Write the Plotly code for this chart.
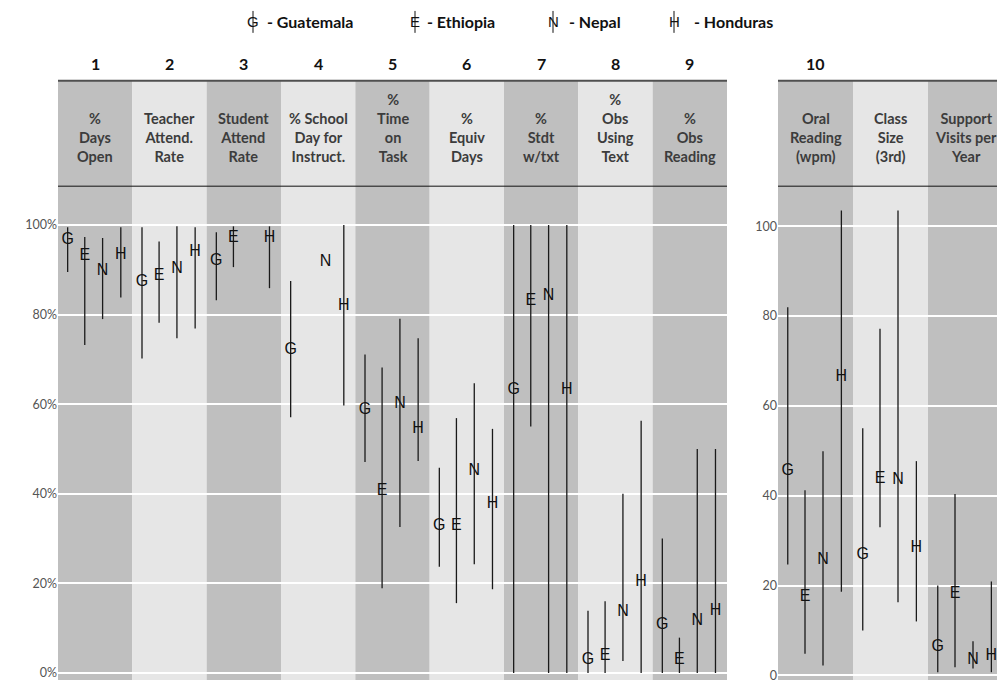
import plotly.graph_objects as go

# ---------------- data ----------------
left_numbers = ["1", "2", "3", "4", "5", "6", "7", "8", "9"]
left_labels = ["%<br>Days<br>Open", "Teacher<br>Attend.<br>Rate", "Student<br>Attend<br>Rate",
               "% School<br>Day for<br>Instruct.", "%<br>Time<br>on<br>Task", "%<br>Equiv<br>Days",
               "%<br>Stdt<br>w/txt", "%<br>Obs<br>Using<br>Text", "%<br>Obs<br>Reading"]
right_numbers = ["10", "", ""]
right_labels = ["Oral<br>Reading<br>(wpm)", "Class<br>Size<br>(3rd)", "Support<br>Visits per<br>Year"]

countries = ["Guatemala", "Ethiopia", "Nepal", "Honduras"]
letters = ["G", "E", "N", "H"]

# left panel (percent), 9 indicators
gua_mean = [96.7, 87.3, 91.9, 72.1, 58.7, 32.8, 63.2, 2.8, 10.8]
gua_high = [99.5, 99.5, 98.4, 87.5, 71.1, 45.8, 100, 13.9, 30]
gua_low = [89.5, 70.2, 83.2, 57.1, 47.1, 23.7, 0, 0, 0]
eth_mean = [93.0, 88.7, 97.1, None, 40.6, 32.8, 83.0, 3.9, 3.0]
eth_high = [97.3, 96.3, 99.7, None, 68.2, 56.9, 100, 16, 7.9]
eth_low = [73.2, 78.2, 90.6, None, 18.9, 15.6, 55.0, 0, 0]
nep_mean = [89.7, 90.2, None, 91.7, 60.1, 45.0, 84.1, 13.6, 11.6]
nep_high = [97.1, 99.7, None, 91.7, 79.1, 64.7, 100, 40, 50]
nep_low = [79.0, 74.7, None, 91.7, 32.6, 24.3, 0, 2.7, 0]
hon_mean = [93.3, 93.9, 97.1, 81.9, 54.5, 37.8, 63.2, 20.4, 13.9]
hon_high = [99.5, 99.5, 99.7, 100, 74.7, 54.5, 100, 56.3, 50]
hon_low = [83.8, 76.9, 85.9, 59.7, 47.3, 18.7, 0, 0, 0]

# right panel (counts), 3 indicators
gua_mean_r = [45.5, 26.7, 6.4]
gua_high_r = [82, 55, 20]
gua_low_r = [24.7, 10, 0.7]
eth_mean_r = [17.5, 43.7, 18.1]
eth_high_r = [41.2, 77.2, 40.4]
eth_low_r = [4.8, 33, 1.8]
nep_mean_r = [25.7, 43.6, 3.5]
nep_high_r = [49.9, 103.5, 7.6]
nep_low_r = [2.2, 16.3, 1.5]
hon_mean_r = [66.4, 28.4, 4.4]
hon_high_r = [103.5, 47.7, 20.9]
hon_low_r = [18.6, 12, 0.7]

left_series = [(gua_mean, gua_low, gua_high), (eth_mean, eth_low, eth_high),
               (nep_mean, nep_low, nep_high), (hon_mean, hon_low, hon_high)]
right_series = [(gua_mean_r, gua_low_r, gua_high_r), (eth_mean_r, eth_low_r, eth_high_r),
                (nep_mean_r, nep_low_r, nep_high_r), (hon_mean_r, hon_low_r, hon_high_r)]

# ---------------- styling ----------------
W, H = 997, 683
offsets = [-0.37, -0.14, 0.10, 0.345]
DARK = "#bfbfbf"
LIGHT = "#e6e6e6"
HDR_TOP = 81
HDR_BOT = 187
LBL_FONT = "Lato, 'Open Sans', sans-serif"
PT_FONT = "'Liberation Sans', Arial, sans-serif"


def px(x):
    return x / W


def py(y):
    return 1 - y / H


fig = go.Figure()


def add_points(series, xa, ya):
    for (mean, low, high), letter in zip(series, letters):
        k = letters.index(letter)
        xs, ys, up, dn = [], [], [], []
        for i, (m, lo, hi) in enumerate(zip(mean, low, high)):
            if m is None:
                continue
            xs.append(i + offsets[k])
            ys.append(m)
            up.append(hi - m)
            dn.append(m - lo)
        fig.add_trace(go.Scatter(
            x=xs, y=ys, mode="text", text=[letter] * len(xs),
            textposition="middle center",
            textfont=dict(family=PT_FONT, size=16, color="#111111"),
            error_y=dict(type="data", symmetric=False, array=up, arrayminus=dn,
                         width=0, thickness=1.3, color="#1a1a1a"),
            xaxis=xa, yaxis=ya, showlegend=False, hoverinfo="skip"))


add_points(left_series, "x", "y")
add_points(right_series, "x2", "y2")

shapes = []
annotations = []

for n_cols, xref, labels, numbers in [(9, "x", left_labels, left_numbers),
                                       (3, "x2", right_labels, right_numbers)]:
    for i in range(n_cols):
        shapes.append(dict(type="rect", xref=xref, yref="paper", x0=i - 0.5, x1=i + 0.5,
                           y0=0, y1=py(HDR_TOP), fillcolor=DARK if i % 2 == 0 else LIGHT,
                           line=dict(width=0), layer="below"))
        annotations.append(dict(xref=xref, yref="paper", x=i, y=py(168), yanchor="bottom",
                                xanchor="center", text=labels[i], showarrow=False, align="center",
                                font=dict(family=LBL_FONT, size=14.5, color="#3c3c3c", weight="bold")))
        if numbers[i]:
            annotations.append(dict(xref=xref, yref="paper", x=i, y=py(64), yanchor="middle",
                                    xanchor="center", text=numbers[i], showarrow=False,
                                    font=dict(family=LBL_FONT, size=16, color="#111111", weight="bold")))
    shapes.append(dict(type="line", xref=xref, yref="paper", x0=-0.5, x1=n_cols - 0.5,
                       y0=py(HDR_TOP), y1=py(HDR_TOP), line=dict(color="#505050", width=2)))
    shapes.append(dict(type="line", xref=xref, yref="paper", x0=-0.5, x1=n_cols - 0.5,
                       y0=py(HDR_BOT), y1=py(HDR_BOT), line=dict(color="#111111", width=1)))

# legend (symbol = letter struck by a vertical line)
legend_sym_x = [253, 415, 553, 674]
legend_txt_x = [265, 425, 567, 692]
for letter, name, sx, tx in zip(letters, countries, legend_sym_x, legend_txt_x):
    annotations.append(dict(xref="paper", yref="paper", x=px(sx), y=py(22), text=letter,
                            showarrow=False, xanchor="center", yanchor="middle",
                            font=dict(family=PT_FONT, size=15, color="#111111")))
    shapes.append(dict(type="line", xref="paper", yref="paper", x0=px(sx), x1=px(sx),
                       y0=py(11), y1=py(33), line=dict(color="#111111", width=1)))
    annotations.append(dict(xref="paper", yref="paper", x=px(tx), y=py(22), text="- " + name,
                            showarrow=False, xanchor="left", yanchor="middle",
                            font=dict(family=LBL_FONT, size=16, color="#111111", weight="bold")))

ticks = [0, 20, 40, 60, 80, 100]
fig.update_layout(
    width=W, height=H, margin=dict(l=0, r=0, t=0, b=0),
    paper_bgcolor="white", plot_bgcolor="rgba(0,0,0,0)",
    shapes=shapes, annotations=annotations, showlegend=False,
    xaxis=dict(domain=[px(58), px(727)], range=[-0.5, 8.5], visible=False, anchor="y"),
    yaxis=dict(domain=[0, 1], range=[(676 - H) / 4.5, 676 / 4.5], tickvals=ticks,
               ticktext=["%d%%" % t for t in ticks], showgrid=True, gridcolor="white",
               gridwidth=1.5, zeroline=False, anchor="x", ticks="", ticklabeloverflow="allow",
               tickfont=dict(family=LBL_FONT, size=12.5, color="#555555")),
    xaxis2=dict(domain=[px(778), 1], range=[-0.5, -0.5 + 219 / 75], visible=False, anchor="y2"),
    yaxis2=dict(domain=[0, 1], range=[(678.3 - H) / 4.51, 678.3 / 4.51], tickvals=ticks,
                ticktext=[str(t) for t in ticks],
                showgrid=True, gridcolor="white", gridwidth=1.5, zeroline=False, anchor="x2",
                ticks="", ticklabeloverflow="allow",
                tickfont=dict(family=LBL_FONT, size=12.5, color="#555555")),
)

fig.write_html("out.html", config={"displayModeBar": False},
               post_script="document.body.style.margin='0px';")
